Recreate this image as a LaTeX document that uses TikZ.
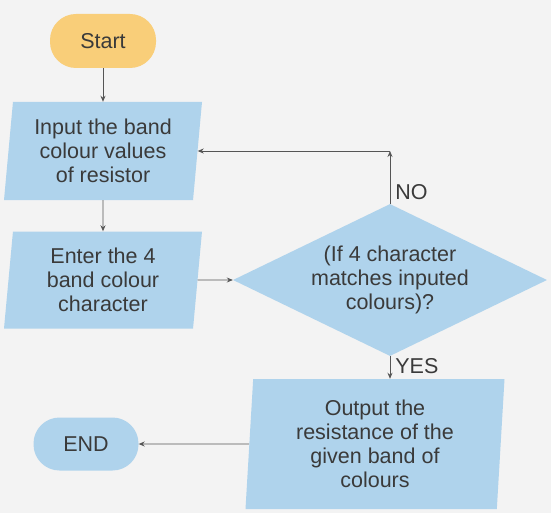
\documentclass[tikz,border=0pt]{standalone}
\usepackage{fontspec}
\setmainfont{Liberation Sans}
\usepackage{xcolor}
\usetikzlibrary{shapes.geometric, arrows.meta}

\definecolor{paper}{RGB}{243,243,243}
\definecolor{boxblue}{RGB}{175,211,236}
\definecolor{startorange}{RGB}{249,206,121}
\definecolor{textgray}{RGB}{58,58,58}
\definecolor{linegray}{RGB}{85,85,85}

\begin{document}
\begin{tikzpicture}[x = 1pt, y = -1pt,
		every node/.style = {text = textgray, font = \fontsize{21.5}{24}\selectfont, align = center},
		terminal/.style = {rectangle, rounded corners = 26pt, inner sep = 0pt},
		iobox/.style = {trapezium, trapezium stretches body, fill = boxblue, inner sep = 0pt},
		decision/.style = {diamond, aspect = 2.07, fill = boxblue, inner sep = 0pt}]
							\fill [paper] (0,0) rectangle (551,513);
				
							\node (start) [terminal, fill = startorange, minimum width = 106pt, minimum height = 54pt] at (103,41) {Start};
							\node (input) [iobox, trapezium left angle = 82, trapezium right angle = 98, minimum width = 198pt, minimum height = 98pt] at (103,151) {Input the band\\colour values\\of resistor};
							\node (enter) [iobox, trapezium left angle = 82, trapezium right angle = 98, minimum width = 198pt, minimum height = 97pt] at (103,280) {Enter the 4\\band colour\\character};
							\node (check) [decision, minimum width = 314pt, minimum height = 152pt] at (390,280) {(If 4 character\\matches inputed\\colours)?};
							\node (output) [iobox, trapezium left angle = 85, trapezium right angle = 95, minimum width = 259pt, minimum height = 130pt] at (375,444) {Output the\\resistance of the\\given band of\\colours};
							\node (end) [terminal, fill = boxblue, minimum width = 105pt, minimum height = 53pt] at (86,444) {END};
				
							\coordinate (turn) at (check.north |- input.east);
				
							\begin{scope}[draw = linegray, line width = 0.8pt, -{Stealth[length = 6pt, width = 5pt]}]
								\draw (start) -- (input);
								\draw (input) -- (enter);
								\draw (enter.east) -- (check.west);
								\draw (check.north) -- node (no) [right, pos = 0.23, inner sep = 5pt] {NO} (turn);
								\draw (turn) -- (input.east);
								\draw (check.south) -- node (yes) [right, pos = 0.45, inner sep = 5pt] {YES} (check.south |- output.north);
								\draw (output.west) -- (end.east);
							\end{scope}
						\end{tikzpicture}
\end{document}
